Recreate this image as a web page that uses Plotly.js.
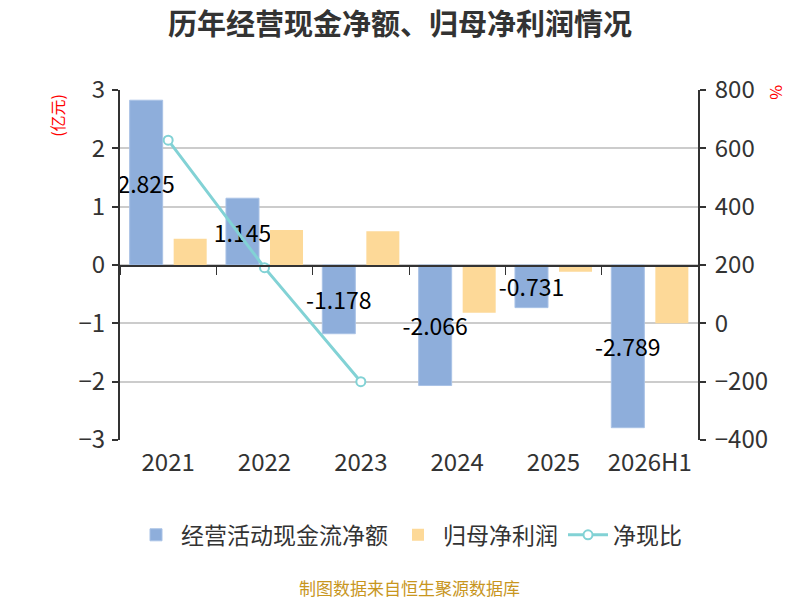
<!DOCTYPE html>
<html>
<head>
<meta charset="utf-8">
<script src="https://cdn.plot.ly/plotly-3.0.1.min.js"></script>
<style>
  html, body { margin: 0; padding: 0; background: #fff; }
  #chart { width: 800px; height: 600px; }
</style>
</head>
<body>
<div id="chart"></div>
<script>
// chart data
const years = ["2021", "2022", "2023", "2024", "2025", "2026H1"];
const cashFlow = [2.825, 1.145, -1.178, -2.066, -0.731, -2.789]; // 亿元
const netProfit = [0.45, 0.6, 0.58, -0.82, -0.115, -1.0]; // 亿元
const cashRatio = [628, 191, -200, null, null, null]; // %

const FONT = "'Noto Sans CJK SC', 'Noto Sans', sans-serif";
const textColor = "#333";

const traces = [
  {
    x: years,
    y: cashFlow,
    type: "bar",
    name: "经营活动现金流净额",
    marker: { color: "#8eaedb", line: { color: "#a9c2e6", width: 1 } },
    text: cashFlow.map((v) => String(v)),
    textposition: "inside",
    insidetextanchor: "middle",
    textangle: 0,
    constraintext: "none",
    textfont: { size: 23, color: "#000", family: FONT },
    cliponaxis: false,
  },
  {
    x: years,
    y: netProfit,
    type: "bar",
    name: "归母净利润",
    marker: { color: "#fdd998" },
  },
  {
    x: years,
    y: cashRatio,
    xaxis: "x2",
    yaxis: "y2",
    type: "scatter",
    mode: "lines+markers",
    name: "净现比",
    line: { color: "#82d2d5", width: 3 },
    marker: {
      symbol: "circle",
      size: 9,
      color: "#fff",
      line: { color: "#82d2d5", width: 2 },
    },
    connectgaps: false,
  },
];

const layout = {
  width: 800,
  height: 600,
  font: { family: FONT, color: textColor },
  title: {
    text: "<b>历年经营现金净额、归母净利润情况</b>",
    font: { size: 29, color: "#333", family: FONT },
    x: 0.5,
    xanchor: "center",
    y: 0.958,
    yanchor: "middle",
  },
  margin: { l: 120, r: 102, t: 90, b: 160 },
  barmode: "group",
  bargap: 0.086,
  bargroupgap: 0.25,
  showlegend: true,
  legend: {
    orientation: "h",
    x: 0.5,
    xanchor: "center",
    y: -0.271,
    yanchor: "middle",
    font: { size: 23, color: textColor, family: FONT },
    itemwidth: 40,
    traceorder: "normal",
  },
  xaxis: {
    type: "category",
    categoryorder: "array",
    categoryarray: years,
    range: [-0.5, 5.5],
    showline: false,
    showgrid: false,
    zeroline: false,
    ticks: "",
    ticklabelstandoff: 6,
    tickfont: { size: 24, color: textColor },
  },
  xaxis2: {
    type: "category",
    categoryorder: "array",
    categoryarray: years,
    range: [-0.5, 5.5],
    overlaying: "x",
    anchor: "free",
    position: 0.5,
    showline: true,
    linecolor: "#333",
    linewidth: 1.5,
    ticks: "outside",
    tickson: "boundaries",
    ticklen: 8,
    tickcolor: "#333",
    showticklabels: false,
    showgrid: false,
    zeroline: false,
  },
  yaxis: {
    range: [-3, 3],
    dtick: 1,
    showline: true,
    linecolor: "#333",
    linewidth: 2,
    ticks: "outside",
    ticklen: 6,
    tickcolor: "#333",
    tickwidth: 2,
    gridcolor: "#cccccc",
    gridwidth: 2,
    zeroline: false,
    ticklabelstandoff: 2,
    tickfont: { size: 24, color: textColor },
  },
  yaxis2: {
    range: [-400, 800],
    dtick: 200,
    overlaying: "y",
    side: "right",
    anchor: "x",
    showline: true,
    linecolor: "#333",
    linewidth: 2,
    ticks: "outside",
    ticklen: 6,
    tickcolor: "#333",
    tickwidth: 2,
    showgrid: false,
    zeroline: false,
    ticklabelstandoff: 4,
    tickfont: { size: 24, color: textColor },
  },
  annotations: [
    {
      text: "(亿元)",
      xref: "paper",
      yref: "paper",
      x: -0.109,
      y: 0.929,
      xanchor: "center",
      yanchor: "middle",
      textangle: -90,
      showarrow: false,
      font: { size: 16, color: "#ff0000", family: FONT },
    },
    {
      text: "%",
      xref: "paper",
      yref: "paper",
      x: 1.137,
      y: 0.994,
      xanchor: "center",
      yanchor: "middle",
      textangle: 90,
      showarrow: false,
      font: { size: 16, color: "#ff0000", family: FONT },
    },
    {
      text: "制图数据来自恒生聚源数据库",
      xref: "paper",
      yref: "paper",
      x: 0.5,
      y: -0.42,
      xanchor: "center",
      yanchor: "middle",
      showarrow: false,
      font: { size: 17, color: "#c8961e", family: FONT },
    },
  ],
  plot_bgcolor: "#fff",
  paper_bgcolor: "#fff",
};

const config = { displayModeBar: false, staticPlot: true };

Plotly.newPlot("chart", traces, layout, config);
</script>
</body>
</html>
